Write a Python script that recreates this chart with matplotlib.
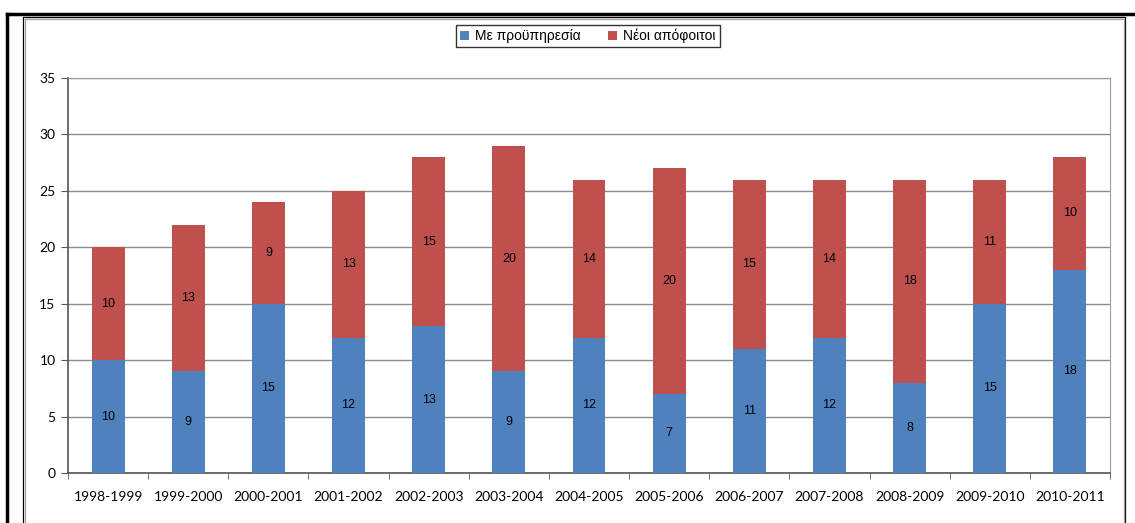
import numpy as np
import matplotlib
matplotlib.use("Agg")
import matplotlib.pyplot as plt
from matplotlib.lines import Line2D

# data
years = ["1998-1999", "1999-2000", "2000-2001", "2001-2002", "2002-2003",
         "2003-2004", "2004-2005", "2005-2006", "2006-2007", "2007-2008",
         "2008-2009", "2009-2010", "2010-2011"]
experienced = [10, 9, 15, 12, 13, 9, 12, 7, 11, 12, 8, 15, 18]
new_grads = [10, 13, 9, 13, 15, 20, 14, 20, 15, 14, 18, 11, 10]
labels = ["Με προϋπηρεσία", "Νέοι απόφοιτοι"]

W, H = 1135, 523
fig = plt.figure(figsize=(W / 100, H / 100), dpi=100)

# axes placed in pixel coords
x0, x1, y0, y1 = 68, 1110, 78, 473
ax = fig.add_axes([x0 / W, 1 - y1 / H, (x1 - x0) / W, (y1 - y0) / H])

x = np.arange(len(years))
bw = 0.41
blue, red = "#4F81BD", "#C0504D"
b1 = ax.bar(x, experienced, bw, color=blue, label=labels[0], zorder=3)
b2 = ax.bar(x, new_grads, bw, bottom=experienced, color=red, label=labels[1], zorder=3)

for i in range(len(years)):
    ax.text(x[i], experienced[i] / 2, str(experienced[i]), ha="center", va="center",
            fontsize=9, family="Liberation Sans", zorder=4)
    ax.text(x[i], experienced[i] + new_grads[i] / 2, str(new_grads[i]), ha="center",
            va="center", fontsize=9, family="Liberation Sans", zorder=4)

ax.set_xlim(-0.5, len(years) - 0.5)
ax.set_ylim(0, 35)
ax.set_yticks(np.arange(0, 36, 5))
ax.set_xticks(x)
ax.set_xticklabels(years)
ax.set_xticks(np.arange(-0.5, len(years), 1), minor=True)
ax.tick_params(axis="x", which="major", length=0, pad=13)
ax.tick_params(axis="x", which="minor", length=4, color="#555555")
ax.tick_params(axis="y", length=5, color="#555555", pad=4)
for lab in ax.get_xticklabels() + ax.get_yticklabels():
    lab.set_family("Lato")
    lab.set_fontsize(10)
ax.yaxis.grid(True, color="#8c8c8c", linewidth=1, zorder=0)
for s in ["top", "right"]:
    ax.spines[s].set_color("#9a9a9a")
for s in ["left", "bottom"]:
    ax.spines[s].set_color("#555555")
    ax.spines[s].set_linewidth(1.2)

leg = fig.legend(handles=[b1, b2], labels=labels, loc="center",
                 bbox_to_anchor=(588 / W, 1 - 36 / H), ncol=2, frameon=True,
                 fancybox=False, edgecolor="black", handlelength=0.65, handleheight=0.65,
                 columnspacing=2.0, handletextpad=0.4, borderpad=0.3,
                 prop={"family": "Liberation Sans", "size": 10})
leg.get_frame().set_linewidth(1.0)

# outer frame lines
fig.add_artist(Line2D([7 / W, 1], [1 - 14 / H, 1 - 14 / H], color="black", linewidth=2.5))
fig.add_artist(Line2D([7 / W, 7 / W], [0, 1 - 14 / H], color="black", linewidth=2.5))
# inner frame with grey shadow
fig.add_artist(Line2D([23 / W, 23 / W, 1125 / W, 1125 / W], [0, 1 - 17 / H, 1 - 17 / H, 0],
                      color="black", linewidth=0.9))
fig.add_artist(Line2D([24.5 / W, 24.5 / W, 1123.5 / W, 1123.5 / W], [0, 1 - 18.5 / H, 1 - 18.5 / H, 0],
                      color="#a0a0a0", linewidth=0.9))

fig.savefig("out.png", dpi=100)
